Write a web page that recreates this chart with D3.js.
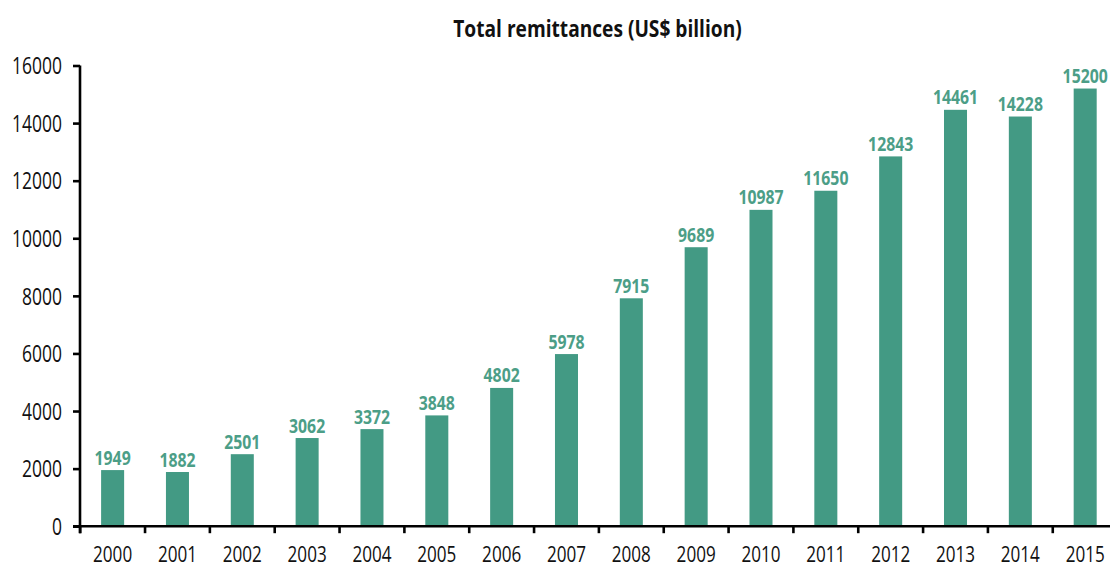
<!DOCTYPE html>
<html>
<head>
<meta charset="utf-8">
<script src="https://cdn.jsdelivr.net/npm/d3@7"></script>
<style>
  html, body { margin: 0; padding: 0; background: #fff; overflow: hidden; }
  svg { display: block; }
  text { font-family: "Open Sans", "Noto Sans", sans-serif; }
</style>
</head>
<body>
<svg id="chart" width="1110" height="567"></svg>
<script>
// Total remittances by year
const years = ["2000","2001","2002","2003","2004","2005","2006","2007",
               "2008","2009","2010","2011","2012","2013","2014","2015"];
const remittances = [1949, 1882, 2501, 3062, 3372, 3848, 4802, 5978,
                     7915, 9689, 10987, 11650, 12843, 14461, 14228, 15200];
const yTicks = [0, 2000, 4000, 6000, 8000, 10000, 12000, 14000, 16000];
const chartTitle = "Total remittances (US$ billion)";

const barColor = "#439a84";
const labelColor = "#4c9e87";

const svg = d3.select("#chart");

const x = d3.scaleBand()
  .domain(years)
  .range([80.2, 1117.6])
  .paddingInner(0.645)
  .paddingOuter(0.3225);

const y = d3.scaleLinear()
  .domain([0, 16000])
  .range([526.2, 65.5]);

// Condensed lettering: squeeze the text horizontally around its anchor point
function condense(sel, sx) {
  sel.each(function () {
    const t = d3.select(this);
    const px = +t.attr("x") || 0, py = +t.attr("y") || 0;
    t.attr("x", 0).attr("y", 0)
     .attr("transform", `translate(${px},${py}) scale(${sx},1)`);
  });
}

// Title
svg.append("text")
  .attr("x", 597.5)
  .attr("y", 37)
  .attr("text-anchor", "middle")
  .attr("font-size", 23.5)
  .attr("font-weight", "bold")
  .attr("fill", "#111")
  .text(chartTitle)
  .call(condense, 0.815);

// Bars
svg.append("g")
  .selectAll("rect")
  .data(years)
  .join("rect")
  .attr("x", d => x(d))
  .attr("width", x.bandwidth())
  .attr("y", (d, i) => y(remittances[i]))
  .attr("height", (d, i) => y(0) - y(remittances[i]))
  .attr("fill", barColor);

// Value labels
svg.append("g")
  .selectAll("text")
  .data(years)
  .join("text")
  .attr("x", d => x(d) + x.bandwidth() / 2)
  .attr("y", (d, i) => y(remittances[i]) - 5.5)
  .attr("text-anchor", "middle")
  .attr("font-size", 20)
  .attr("font-weight", "bold")
  .attr("fill", labelColor)
  .text((d, i) => remittances[i])
  .call(condense, 0.79);

// Y axis
const yAxis = svg.append("g")
  .attr("transform", "translate(80,0)")
  .call(d3.axisLeft(y).tickValues(yTicks).tickSize(7).tickPadding(11).tickFormat(d3.format("d")));
yAxis.select(".domain").attr("d", `M0,${y(16000)}V${y(0) + 7}`).attr("stroke", "#000").attr("stroke-width", 2.6);
yAxis.selectAll(".tick line").attr("stroke", "#000").attr("stroke-width", 2.6);
yAxis.selectAll(".tick text")
  .attr("font-size", 23)
  .attr("fill", "#111")
  .attr("dy", "0.36em")
  .style("font-family", '"Open Sans", "Noto Sans", sans-serif')
  .each(function () {
    const t = d3.select(this);
    t.attr("transform", `translate(${t.attr("x")},0) scale(0.76,1)`).attr("x", 0);
  });

// X axis: ticks sit on band boundaries, labels centred in each band
const xAxisG = svg.append("g").attr("transform", `translate(0,${y(0)})`);
xAxisG.append("line")
  .attr("x1", 73).attr("x2", 1120)
  .attr("stroke", "#000").attr("stroke-width", 2.6);
const step = x.step();
const boundaries = years.map((d, i) => x.range()[0] + i * step);
xAxisG.selectAll(".btick")
  .data(boundaries)
  .join("line")
  .attr("class", "btick")
  .attr("x1", d => d).attr("x2", d => d)
  .attr("y1", 0).attr("y2", 7)
  .attr("stroke", "#000").attr("stroke-width", 2.6);
xAxisG.selectAll(".xlabel")
  .data(years)
  .join("text")
  .attr("class", "xlabel")
  .attr("x", d => x(d) + x.bandwidth() / 2)
  .attr("y", 35.5)
  .attr("text-anchor", "middle")
  .attr("font-size", 22.5)
  .attr("fill", "#111")
  .text(d => d)
  .call(condense, 0.76);
</script>
</body>
</html>
